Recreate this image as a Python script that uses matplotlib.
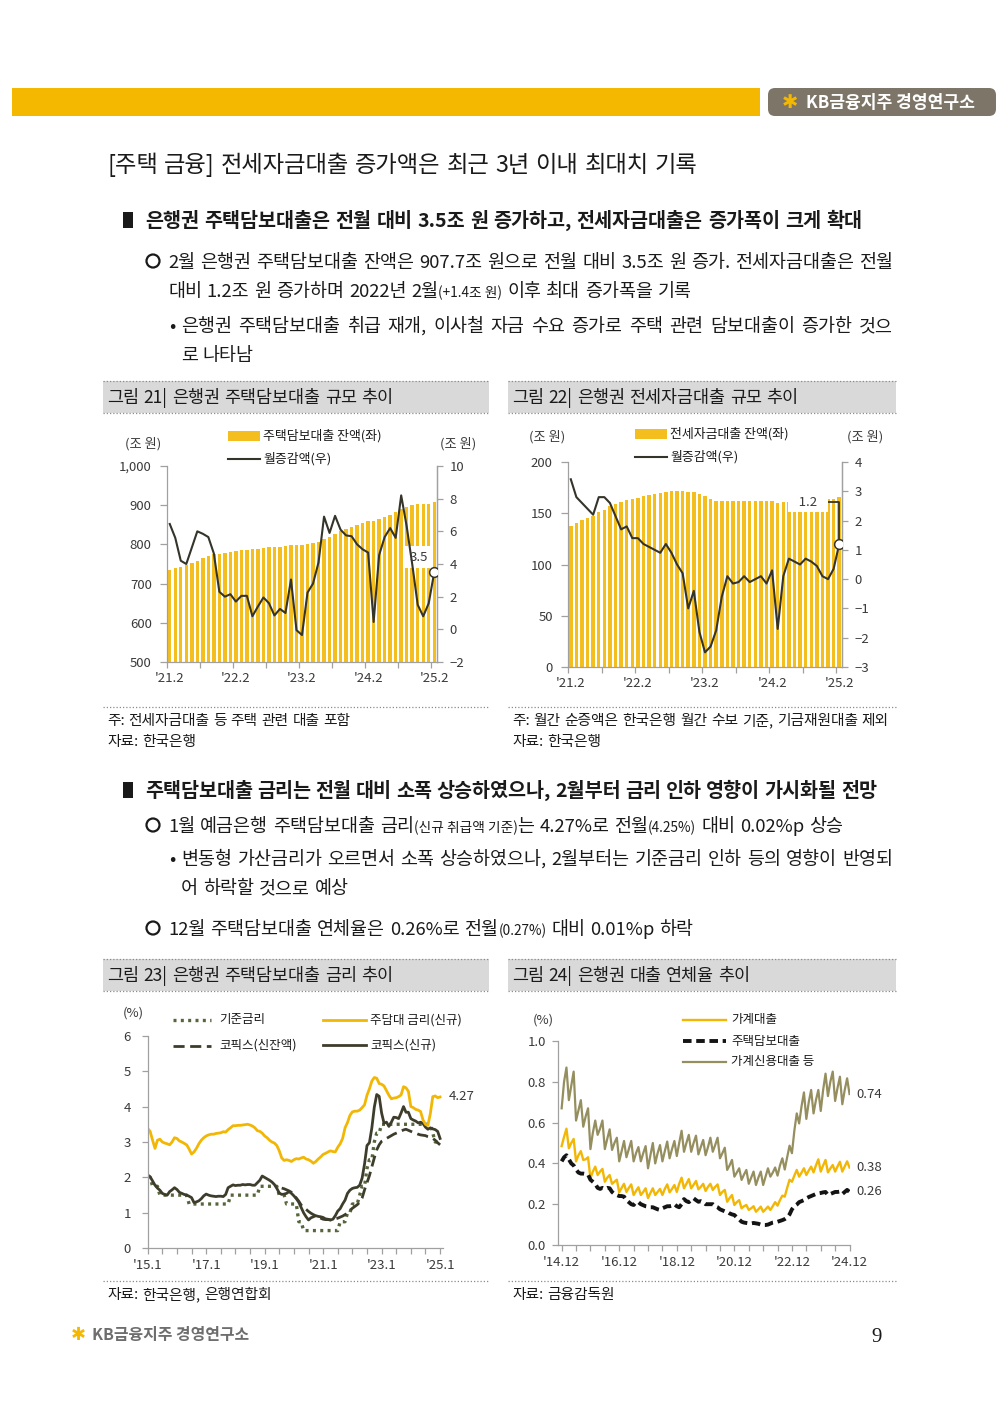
import numpy as np
import matplotlib
matplotlib.use('Agg')
import matplotlib.pyplot as plt
from matplotlib.patches import Rectangle, Circle, FancyBboxPatch

plt.rcParams['font.family'] = ['Noto Sans CJK KR', 'DejaVu Sans']

# ---------------- data ----------------
# 그림 21 : 은행권 주택담보대출 ('21.2 ~ '25.2, 월별)
mort_ticklabels = ["'21.2", "'22.2", "'23.2", "'24.2", "'25.2"]
mort_bal = [733.5, 739.1, 743.3, 747.3, 752.3, 758.3, 764.1, 769.8, 774.4, 776.7, 778.7, 780.8,
            782.5, 784.6, 786.6, 787.4, 788.8, 790.8, 792.4, 793.2, 794.5, 795.5, 798.5, 798.5,
            798.2, 800.4, 803.2, 807.3, 814.2, 820.1, 827.0, 833.1, 838.9, 844.6, 849.8, 854.7,
            859.4, 859.8, 864.4, 870.0, 876.2, 881.8, 890.0, 896.3, 900.3, 901.8, 902.6, 904.2,
            907.7]
mort_chg = [6.45, 5.6, 4.2, 4.0, 5.0, 6.0, 5.85, 5.65, 4.65, 2.3, 2.0, 2.15,
            1.7, 2.05, 2.05, 0.8, 1.4, 1.95, 1.6, 0.85, 1.25, 1.0, 3.05, -0.05,
            -0.35, 2.25, 2.8, 4.1, 6.9, 5.9, 6.95, 6.1, 5.75, 5.7, 5.2, 4.9,
            4.7, 0.45, 4.55, 5.65, 6.2, 5.6, 8.2, 6.3, 4.0, 1.5, 0.8, 1.6,
            3.5]

# 그림 22 : 은행권 전세자금대출
jeonse_bal = [137.9, 140.5, 143.1, 145.4, 147.6, 150.9, 153.5, 156.7, 159.3, 161.0, 162.6, 163.9,
              164.9, 166.5, 167.5, 168.8, 169.8, 170.7, 171.4, 172.0, 172.0, 171.0, 170.4, 168.8,
              166.5, 163.9, 162.3, 162.3, 162.0, 161.9, 162.0, 161.9, 161.8, 161.9, 161.9, 162.0,
              161.8, 160.3, 160.5, 161.1, 161.7, 162.2, 162.9, 163.5, 163.9, 164.0, 164.0, 164.3,
              165.5]
jeonse_chg = [3.41, 2.8, 2.6, 2.4, 2.2, 2.8, 2.8, 2.6, 2.15, 1.7, 1.8, 1.4,
              1.4, 1.2, 1.1, 1.0, 0.9, 1.2, 0.9, 0.5, 0.2, -1.0, -0.4, -1.8,
              -2.5, -2.3, -1.75, -0.6, 0.1, -0.15, -0.1, 0.1, -0.1, 0.0, 0.1, -0.15,
              0.3, -1.7, 0.1, 0.7, 0.6, 0.5, 0.7, 0.6, 0.45, 0.1, 0.0, 0.35,
              1.2]

# 그림 23 : 금리 ('15.1 ~ '25.1, 월별)
rate_ticklabels = ["'15.1", "'17.1", "'19.1", "'21.1", "'23.1", "'25.1"]
base_rate = [2.00, 2.00, 1.75, 1.75, 1.75, 1.50, 1.50, 1.50, 1.50, 1.50, 1.50, 1.50,
             1.50, 1.50, 1.50, 1.50, 1.50, 1.25, 1.25, 1.25, 1.25, 1.25, 1.25, 1.25,
             1.25, 1.25, 1.25, 1.25, 1.25, 1.25, 1.25, 1.25, 1.25, 1.25, 1.50, 1.50,
             1.50, 1.50, 1.50, 1.50, 1.50, 1.50, 1.50, 1.50, 1.50, 1.50, 1.75, 1.75,
             1.75, 1.75, 1.75, 1.75, 1.75, 1.75, 1.50, 1.50, 1.50, 1.25, 1.25, 1.25,
             1.25, 1.25, 0.75, 0.75, 0.50, 0.50, 0.50, 0.50, 0.50, 0.50, 0.50, 0.50,
             0.50, 0.50, 0.50, 0.50, 0.50, 0.50, 0.50, 0.75, 0.75, 0.75, 1.00, 1.00,
             1.25, 1.25, 1.25, 1.50, 1.75, 1.75, 2.25, 2.50, 2.50, 3.00, 3.25, 3.25,
             3.50, 3.50, 3.50, 3.50, 3.50, 3.50, 3.50, 3.50, 3.50, 3.50, 3.50, 3.50,
             3.50, 3.50, 3.50, 3.50, 3.50, 3.50, 3.50, 3.50, 3.50, 3.25, 3.00, 3.00,
             3.00]
mort_rate = [3.38, 3.30, 3.05, 2.82, 3.05, 3.08, 3.00, 2.97, 2.95, 2.92, 3.00, 3.12,
             3.10, 3.03, 3.00, 2.96, 2.92, 2.80, 2.66, 2.72, 2.82, 2.95, 3.05, 3.12,
             3.17, 3.20, 3.22, 3.22, 3.24, 3.25, 3.26, 3.29, 3.28, 3.35, 3.40, 3.46,
             3.46, 3.47, 3.47, 3.48, 3.49, 3.50, 3.48, 3.45, 3.40, 3.32, 3.30, 3.25,
             3.17, 3.12, 3.05, 3.00, 2.97, 2.90, 2.75, 2.55, 2.48, 2.50, 2.48, 2.45,
             2.50, 2.53, 2.52, 2.55, 2.57, 2.52, 2.50, 2.46, 2.40, 2.45, 2.52, 2.58,
             2.65, 2.68, 2.72, 2.75, 2.73, 2.72, 2.85, 2.95, 3.10, 3.40, 3.55, 3.75,
             3.85, 3.87, 3.87, 3.90, 3.97, 4.05, 4.32, 4.50, 4.72, 4.82, 4.80, 4.65,
             4.63, 4.58, 4.45, 4.32, 4.22, 4.24, 4.25, 4.28, 4.33, 4.56, 4.53, 4.43,
             4.00, 3.97, 3.92, 3.90, 3.86, 3.62, 3.50, 3.47, 3.80, 4.28, 4.30, 4.25,
             4.27]
cofix_new = [2.07, 2.02, 1.90, 1.78, 1.70, 1.64, 1.55, 1.52, 1.50, 1.60, 1.65, 1.71,
             1.66, 1.58, 1.55, 1.52, 1.50, 1.47, 1.43, 1.29, 1.31, 1.34, 1.40, 1.48,
             1.53, 1.50, 1.48, 1.47, 1.46, 1.47, 1.47, 1.46, 1.52, 1.71, 1.75, 1.79,
             1.77, 1.78, 1.78, 1.80, 1.79, 1.80, 1.80, 1.78, 1.78, 1.85, 1.92, 2.04,
             2.00, 1.96, 1.92, 1.87, 1.80, 1.69, 1.56, 1.52, 1.53, 1.55, 1.60, 1.55,
             1.48, 1.40, 1.30, 1.15, 1.00, 0.89, 0.80, 0.86, 0.89, 0.92, 0.90, 0.89,
             0.87, 0.83, 0.82, 0.80, 0.82, 0.92, 1.05, 1.12, 1.25, 1.36, 1.55, 1.64,
             1.69, 1.71, 1.72, 1.78, 1.98, 2.38, 2.90, 2.98, 3.40, 3.98, 4.34, 4.29,
             3.82, 3.53, 3.56, 3.44, 3.56, 3.70, 3.69, 3.66, 3.82, 4.00, 3.84, 3.84,
             3.66, 3.62, 3.59, 3.54, 3.56, 3.52, 3.42, 3.36, 3.40, 3.37, 3.35, 3.30,
             3.10]
# 신잔액 코픽스: '19.8부터
cofix_bal_start = 55
cofix_bal = [1.70, 1.68, 1.65, 1.62, 1.58,
             1.50, 1.42, 1.33, 1.22, 1.15, 1.10, 1.04, 0.99, 0.95, 0.92, 0.88, 0.85,
             0.82, 0.81, 0.81, 0.80, 0.81, 0.83, 0.85, 0.88, 0.91, 0.95, 1.00, 1.07,
             1.13, 1.18, 1.23, 1.30, 1.42, 1.65, 1.85, 2.05, 2.30, 2.55, 2.78, 2.92,
             3.02, 3.06, 3.10, 3.14, 3.18, 3.22, 3.25, 3.28, 3.31, 3.34, 3.36, 3.33,
             3.30, 3.27, 3.25, 3.22, 3.20, 3.19, 3.18, 3.15, 3.13, 3.10, 3.05, 2.98,
             2.92]

# 그림 24 : 연체율 ('14.12 ~ '24.12, 월별)
delinq_ticklabels = ["'14.12", "'16.12", "'18.12", "'20.12", "'22.12", "'24.12"]
hh_loan = [0.485,
           0.53, 0.57, 0.474, 0.50, 0.52, 0.41, 0.44, 0.46, 0.417, 0.42, 0.43, 0.327,
           0.36, 0.384, 0.343, 0.36, 0.373, 0.31, 0.33, 0.343, 0.30, 0.31, 0.32, 0.258,
           0.28, 0.30, 0.26, 0.28, 0.297, 0.245, 0.265, 0.283, 0.245, 0.26, 0.278, 0.23,
           0.255, 0.278, 0.245, 0.26, 0.275, 0.245, 0.275, 0.297, 0.258, 0.275, 0.294, 0.26,
           0.30, 0.33, 0.278, 0.30, 0.323, 0.278, 0.295, 0.314, 0.273, 0.285, 0.30, 0.265,
           0.285, 0.30, 0.27, 0.285, 0.297, 0.245, 0.26, 0.27, 0.212, 0.23, 0.245, 0.196,
           0.21, 0.22, 0.18, 0.19, 0.196, 0.172, 0.18, 0.19, 0.163, 0.175, 0.188, 0.163,
           0.175, 0.188, 0.172, 0.19, 0.21, 0.193, 0.22, 0.242, 0.237, 0.28, 0.32, 0.31,
           0.34, 0.368, 0.335, 0.355, 0.376, 0.343, 0.365, 0.384, 0.356, 0.39, 0.42, 0.36,
           0.39, 0.417, 0.356, 0.375, 0.392, 0.36, 0.385, 0.408, 0.36, 0.385, 0.41, 0.38]
mort_loan = [0.41,
             0.43, 0.44, 0.42, 0.40, 0.39, 0.37, 0.355, 0.35, 0.35, 0.348, 0.345, 0.32,
             0.31, 0.30, 0.28, 0.275, 0.28, 0.275, 0.28, 0.278, 0.26, 0.25, 0.245, 0.24,
             0.24, 0.237, 0.22, 0.21, 0.20, 0.196, 0.21, 0.21, 0.20, 0.195, 0.19, 0.188,
             0.185, 0.185, 0.18, 0.175, 0.172, 0.18, 0.185, 0.19, 0.19, 0.193, 0.20, 0.19,
             0.185, 0.20, 0.225, 0.215, 0.21, 0.22, 0.229, 0.22, 0.212, 0.215, 0.21, 0.20,
             0.20, 0.20, 0.20, 0.19, 0.185, 0.175, 0.17, 0.165, 0.163, 0.155, 0.15, 0.147,
             0.135, 0.125, 0.114, 0.11, 0.108, 0.106, 0.106, 0.108, 0.106, 0.104, 0.10, 0.098,
             0.098, 0.10, 0.105, 0.11, 0.112, 0.114, 0.118, 0.122, 0.127, 0.135, 0.15, 0.175,
             0.19, 0.198, 0.21, 0.215, 0.22, 0.229, 0.235, 0.24, 0.245, 0.25, 0.253, 0.255,
             0.258, 0.26, 0.245, 0.25, 0.255, 0.26, 0.26, 0.262, 0.25, 0.26, 0.27, 0.26]
credit_loan = [0.67,
               0.80, 0.87, 0.71, 0.78, 0.85, 0.61, 0.66, 0.71, 0.58, 0.63, 0.67, 0.47,
               0.55, 0.61, 0.54, 0.57, 0.61, 0.47, 0.52, 0.567, 0.466, 0.50, 0.526, 0.41,
               0.46, 0.51, 0.43, 0.47, 0.51, 0.41, 0.45, 0.48, 0.41, 0.45, 0.485, 0.376,
               0.44, 0.50, 0.40, 0.45, 0.49, 0.41, 0.46, 0.507, 0.425, 0.47, 0.51, 0.436,
               0.50, 0.56, 0.457, 0.50, 0.54, 0.457, 0.50, 0.536, 0.444, 0.48, 0.515, 0.44,
               0.48, 0.526, 0.457, 0.49, 0.526, 0.425, 0.45, 0.477, 0.368, 0.39, 0.417, 0.335,
               0.355, 0.376, 0.319, 0.345, 0.368, 0.30, 0.33, 0.36, 0.294, 0.33, 0.36, 0.294,
               0.335, 0.376, 0.335, 0.355, 0.38, 0.34, 0.39, 0.425, 0.37, 0.43, 0.487, 0.45,
               0.56, 0.645, 0.596, 0.68, 0.748, 0.618, 0.70, 0.76, 0.645, 0.71, 0.76, 0.657,
               0.76, 0.84, 0.73, 0.80, 0.85, 0.706, 0.77, 0.825, 0.69, 0.76, 0.817, 0.74]

# ---------------- style ----------------
YEL = '#F5B800'
BAR = '#F4BE1E'
LINE = '#35342A'
AXC = '#A0A0A0'
TXT = '#1A1A1A'
TICK = '#3A3A3A'
GRAYBOX = '#D9D9D9'

W, H = 1000, 1414
fig = plt.figure(figsize=(10, 14.14), dpi=100)
bg = fig.add_axes([0, 0, 1, 1])
bg.set_xlim(0, W)
bg.set_ylim(H, 0)
bg.axis('off')
R = fig.canvas.get_renderer()
PX2PT = 0.72


def add_ax(l, t, r, b):
    ax = fig.add_axes([l / W, 1 - b / H, (r - l) / W, (b - t) / H])
    ax.patch.set_visible(False)
    return ax


def parse(line):
    # {..} marks smaller inline text
    words, cur, part, small = [], [], '', False
    for ch in line:
        if ch in '{}':
            if part:
                cur.append((part, small))
                part = ''
            small = ch == '{'
        elif ch == ' ' and not small:
            if part:
                cur.append((part, small))
                part = ''
            if cur:
                words.append(cur)
                cur = []
        else:
            part += ch
    if part:
        cur.append((part, small))
    if cur:
        words.append(cur)
    return words


def draw_line(x0, y, line, size, x1=None, weight='normal', color=TXT, small_ratio=0.74, family=None):
    words = parse(line)
    items, widths = [], []
    for w in words:
        parts, tot = [], 0
        for txt, sm in w:
            kw = dict(fontsize=size * small_ratio if sm else size, fontweight=weight,
                      va='baseline', ha='left', color=color)
            if family:
                kw['family'] = family
            t = bg.text(0, y, txt, **kw)
            wd = t.get_window_extent(renderer=R).width
            parts.append((t, wd))
            tot += wd
        items.append(parts)
        widths.append(tot)
    gap = size / PX2PT * 0.26
    if x1 is not None and len(words) > 1:
        gap = (x1 - x0 - sum(widths)) / (len(words) - 1)
    x = x0
    for parts in items:
        for t, wd in parts:
            t.set_x(x)
            x += wd
        x += gap
    return x - gap


def fit_size(line, width, weight='normal', base=12):
    words = parse(line)
    tot = 0
    for w in words:
        for txt, sm in w:
            t = bg.text(0, 0, txt, fontsize=base * (0.74 if sm else 1), fontweight=weight)
            tot += t.get_window_extent(renderer=R).width
            t.remove()
    tot += (len(words) - 1) * base / PX2PT * 0.26
    return base * width / tot


def dotted(x0, x1, y):
    bg.plot([x0, x1], [y, y], color='#8C8C8C', lw=0.9, ls=(0, (1, 1.6)))


# ---------------- page header ----------------
bg.add_patch(Rectangle((12, 88), 748, 28, color=YEL, lw=0))
bg.add_patch(FancyBboxPatch((768, 88), 228, 28, boxstyle='round,pad=0,rounding_size=7',
                            fc='#7D7568', ec='none'))
bg.text(790, 103, '✱', color=YEL, fontsize=14, family='DejaVu Sans', ha='center', va='center',
        fontweight='bold')
s_hdr = fit_size('KB금융지주 경영연구소', 170, 'bold')
bg.text(806, 103, 'KB금융지주 경영연구소', color='white', fontsize=s_hdr, fontweight='bold',
        va='center', ha='left')

title = '[주택 금융] 전세자금대출 증가액은 최근 3년 이내 최대치 기록'
draw_line(107, 172, title, fit_size(title, 593))

# ---------------- section 1 text ----------------
h1 = '은행권 주택담보대출은 전월 대비 3.5조 원 증가하고, 전세자금대출은 증가폭이 크게 확대'
hsize = fit_size(h1, 720, 'bold')
bg.add_patch(Rectangle((123, 212), 10, 16, color=TXT, lw=0))
draw_line(145, 227, h1, hsize, weight='bold')

b1 = '2월 은행권 주택담보대출 잔액은 907.7조 원으로 전월 대비 3.5조 원 증가. 전세자금대출은 전월'
bsize = fit_size(b1, 725)
bg.add_patch(Circle((153, 261), 6.5, fill=False, ec=TXT, lw=1.6))
draw_line(168, 268, b1, bsize, x1=893)
draw_line(168, 297, '대비 1.2조 원 증가하며 2022년 2월{(+1.4조 원)} 이후 최대 증가폭을 기록', bsize)
bg.text(172, 332, '•', fontsize=bsize, color=TXT, ha='center', va='baseline')
draw_line(181, 332, '은행권 주택담보대출 취급 재개, 이사철 자금 수요 증가로 주택 관련 담보대출이 증가한 것으',
          bsize, x1=893)
draw_line(181, 361, '로 나타남', bsize)

# figure title boxes
ftitles = ['그림 21| 은행권 주택담보대출 규모 추이', '그림 22| 은행권 전세자금대출 규모 추이',
           '그림 23| 은행권 주택담보대출 금리 추이', '그림 24| 은행권 대출 연체율 추이']
fsize = fit_size(ftitles[0], 288)
for (x0, x1, y0), s in zip([(103, 489, 381), (508, 896, 381), (103, 489, 959), (508, 896, 959)], ftitles):
    bg.add_patch(Rectangle((x0, y0), x1 - x0, 32, fc=GRAYBOX, ec='none'))
    dotted(x0, x1, y0)
    dotted(x0, x1, y0 + 32)
    draw_line(x0 + 4, y0 + 22, s, fsize)

# notes
nsize = fit_size('주: 월간 순증액은 한국은행 월간 수보 기준, 기금재원대출 제외', 379)
dotted(103, 489, 707)
dotted(508, 896, 707)
draw_line(107, 725, '주: 전세자금대출 등 주택 관련 대출 포함', nsize)
draw_line(107, 746, '자료: 한국은행', nsize)
draw_line(512, 725, '주: 월간 순증액은 한국은행 월간 수보 기준, 기금재원대출 제외', nsize)
draw_line(512, 746, '자료: 한국은행', nsize)

# ---------------- section 2 text ----------------
h2 = '주택담보대출 금리는 전월 대비 소폭 상승하였으나, 2월부터 금리 인하 영향이 가시화될 전망'
bg.add_patch(Rectangle((123, 782), 10, 16, color=TXT, lw=0))
draw_line(145, 797, h2, hsize, x1=877, weight='bold')
bg.add_patch(Circle((153, 825), 6.5, fill=False, ec=TXT, lw=1.6))
draw_line(168, 832, '1월 예금은행 주택담보대출 금리{(신규 취급액 기준)}는 4.27%로 전월{(4.25%)} 대비 0.02%p 상승', bsize)
bg.text(172, 865, '•', fontsize=bsize, color=TXT, ha='center', va='baseline')
draw_line(181, 865, '변동형 가산금리가 오르면서 소폭 상승하였으나, 2월부터는 기준금리 인하 등의 영향이 반영되',
          bsize, x1=893)
draw_line(181, 894, '어 하락할 것으로 예상', bsize)
bg.add_patch(Circle((153, 928), 6.5, fill=False, ec=TXT, lw=1.6))
draw_line(168, 935, '12월 주택담보대출 연체율은 0.26%로 전월{(0.27%)} 대비 0.01%p 하락', bsize)

dotted(103, 489, 1281)
dotted(508, 896, 1281)
draw_line(107, 1299, '자료: 한국은행, 은행연합회', nsize)
draw_line(512, 1299, '자료: 금융감독원', nsize)

# footer
bg.text(78, 1335, '✱', color=YEL, fontsize=13, family='DejaVu Sans', ha='center', va='center',
        fontweight='bold')
s_ft = fit_size('KB금융지주 경영연구소', 158, 'bold')
bg.text(92, 1335, 'KB금융지주 경영연구소', color='#6E6E6E', fontsize=s_ft, fontweight='bold',
        va='center', ha='left')
bg.text(877, 1337, '9', fontsize=15, family='Liberation Serif', color=TXT, ha='center', va='center')

FS = 9.5


def base_style(ax):
    ax.spines['top'].set_visible(False)
    for s in ['left', 'right', 'bottom']:
        ax.spines[s].set_color(AXC)
        ax.spines[s].set_linewidth(0.9)
    ax.tick_params(which='both', color=AXC, labelcolor=TICK, labelsize=FS, direction='out', width=0.9)


def legend_text(x, y, s, size=9.3):
    bg.text(x, y, s, fontsize=size, color=TXT, va='center', ha='left')


# ---------------- chart 1 ----------------
ax1 = add_ax(167, 466, 437, 662)
x1 = np.arange(len(mort_bal))
ax1.bar(x1, mort_bal, width=0.62, color=BAR, lw=0)
ax1.set_xlim(-0.5, len(mort_bal) - 0.5)
ax1.set_ylim(500, 1000)
ax1.set_yticks(np.arange(500, 1001, 100))
ax1.set_yticklabels([f'{v:,}' for v in range(500, 1001, 100)])
ax1.set_xticks(np.arange(0, len(mort_bal), 12))
ax1.set_xticklabels(mort_ticklabels)
ax1.set_xticks(np.arange(-0.5, len(mort_bal), 6), minor=True)
base_style(ax1)
ax1.tick_params(axis='x', which='major', length=0, pad=7)
ax1.tick_params(axis='x', which='minor', length=4)
ax1.tick_params(axis='y', length=5, pad=6)
ax1r = ax1.twinx()
ax1r.plot(x1, mort_chg, color=LINE, lw=1.5, zorder=3)
ax1r.plot(x1[-1], mort_chg[-1], 'o', ms=7, mfc='white', mec=LINE, mew=1.1, zorder=4)
ax1r.set_ylim(-2, 10)
ax1r.set_yticks(np.arange(-2, 11, 2))
base_style(ax1r)
ax1r.spines['left'].set_visible(False)
ax1r.spines['bottom'].set_visible(False)
ax1r.tick_params(axis='y', length=4, pad=5)
ax1r.annotate(f'{mort_chg[-1]:.1f}', xy=(x1[-1], mort_chg[-1]), xytext=(-15, 15),
              textcoords='offset pixels', ha='center', va='center', fontsize=FS, color=TICK,
              zorder=1, bbox=dict(boxstyle='square,pad=0.35', fc='white', ec='none'))
bg.add_patch(Rectangle((228, 431), 32, 10, color=BAR, lw=0))
legend_text(263, 436, '주택담보대출 잔액(좌)')
bg.plot([228, 260], [459, 459], color=LINE, lw=1.5)
legend_text(263, 459, '월증감액(우)')
bg.text(143, 444, '(조 원)', fontsize=FS, color=TICK, ha='center', va='center')
bg.text(458, 444, '(조 원)', fontsize=FS, color=TICK, ha='center', va='center')

# ---------------- chart 2 ----------------
ax2 = add_ax(568, 462, 842, 667)
x2 = np.arange(len(jeonse_bal))
ax2.bar(x2, jeonse_bal, width=0.62, color=BAR, lw=0)
ax2.set_xlim(-0.5, len(jeonse_bal) - 0.5)
ax2.set_ylim(0, 200)
ax2.set_yticks(np.arange(0, 201, 50))
ax2.set_xticks(np.arange(0, len(jeonse_bal), 12))
ax2.set_xticklabels(mort_ticklabels)
ax2.set_xticks(np.arange(-0.5, len(jeonse_bal), 6), minor=True)
base_style(ax2)
ax2.tick_params(axis='x', which='major', length=0, pad=7)
ax2.tick_params(axis='x', which='minor', length=4)
ax2.tick_params(axis='y', length=5, pad=6)
ax2r = ax2.twinx()
ax2r.plot(x2, jeonse_chg, color=LINE, lw=1.5, zorder=3)
ax2r.plot(x2[-1], jeonse_chg[-1], 'o', ms=7, mfc='white', mec=LINE, mew=1.1, zorder=5)
ax2r.set_ylim(-3, 4)
ax2r.set_yticks(np.arange(-3, 5, 1))
base_style(ax2r)
ax2r.spines['left'].set_visible(False)
ax2r.spines['bottom'].set_visible(False)
ax2r.tick_params(axis='y', length=4, pad=5)
ax2r.annotate('\u2002' + f'{jeonse_chg[-1]:.1f}' + '\u2002', xy=(x2[-1], jeonse_chg[-1]), xytext=(-31, 42),
              textcoords='offset pixels', ha='center', va='center', fontsize=FS, color=TICK,
              zorder=2, bbox=dict(boxstyle='square,pad=0.3', fc='white', ec='none'),
              arrowprops=dict(arrowstyle='-', color=LINE, lw=1.3, shrinkA=0, shrinkB=0,
                              connectionstyle='angle,angleA=0,angleB=90,rad=0'))
bg.add_patch(Rectangle((635, 429), 32, 10, color=BAR, lw=0))
legend_text(670, 434, '전세자금대출 잔액(좌)')
bg.plot([635, 667], [457, 457], color=LINE, lw=1.5)
legend_text(670, 457, '월증감액(우)')
bg.text(547, 437, '(조 원)', fontsize=FS, color=TICK, ha='center', va='center')
bg.text(865, 437, '(조 원)', fontsize=FS, color=TICK, ha='center', va='center')

# ---------------- chart 3 ----------------
ax3 = add_ax(147.7, 1035.7, 443, 1248.3)
x3 = np.arange(len(base_rate))
xb = np.arange(cofix_bal_start, cofix_bal_start + len(cofix_bal))
ax3.plot(x3, base_rate, color='#56663A', lw=2.4, ls=(0, (0.9, 1.3)), solid_capstyle='butt')
ax3.plot(xb, cofix_bal, color='#3E3D2C', lw=2.0, ls=(0, (4, 2)))
ax3.plot(x3, cofix_new, color='#3E3D2C', lw=2.0)
ax3.plot(x3, mort_rate, color='#F2B705', lw=2.0)
ax3.set_xlim(0, 121.2)
ax3.set_ylim(0, 6)
ax3.set_yticks(np.arange(0, 7, 1))
ax3.set_xticks(np.arange(0, len(base_rate), 24))
ax3.set_xticklabels(rate_ticklabels)
ax3.set_xticks(np.arange(0, len(base_rate), 6), minor=True)
base_style(ax3)
ax3.spines['right'].set_visible(False)
ax3.tick_params(axis='x', which='both', length=4, pad=4)
ax3.tick_params(axis='y', length=4, pad=8)
ax3.annotate(f'{mort_rate[-1]:.2f}', xy=(x3[-1], mort_rate[-1]), xytext=(9, 0),
             textcoords='offset pixels', ha='left', va='center', fontsize=FS, color=TICK)
bg.plot([173, 211], [1020, 1020], color='#56663A', lw=2.4, ls=(0, (0.9, 1.3)))
legend_text(219, 1020, '기준금리', 9)
bg.plot([323, 366], [1020, 1020], color='#F2B705', lw=2.0)
legend_text(370, 1020, '주담대 금리(신규)', 9)
bg.plot([173, 211], [1046, 1046], color='#3E3D2C', lw=2.0, ls=(0, (4, 2)))
legend_text(219, 1045, '코픽스(신잔액)', 9)
bg.plot([323, 366], [1045, 1045], color='#3E3D2C', lw=2.0)
legend_text(370, 1045, '코픽스(신규)', 9)
bg.text(133, 1013, '(%)', fontsize=FS, color=TICK, ha='center', va='center')

# ---------------- chart 4 ----------------
ax4 = add_ax(558.3, 1041, 850, 1245)
x4 = np.arange(len(hh_loan))
ax4.plot(x4, credit_loan, color='#958E5F', lw=1.6)
ax4.plot(x4, hh_loan, color='#F2B705', lw=1.7)
ax4.plot(x4, mort_loan, color='#141414', lw=2.8, ls=(0, (2.2, 1.2)))
ax4.set_xlim(-1.4, 120.2)
ax4.set_ylim(0, 1.0)
ax4.set_yticks(np.arange(0, 1.01, 0.2))
ax4.set_yticklabels([f'{v:.1f}' for v in np.arange(0, 1.01, 0.2)])
ax4.set_xticks(np.arange(0, len(hh_loan), 24))
ax4.set_xticklabels(delinq_ticklabels)
ax4.set_xticks(np.arange(0, len(hh_loan), 6), minor=True)
base_style(ax4)
ax4.spines['right'].set_visible(False)
ax4.tick_params(axis='x', which='both', length=4, pad=4)
ax4.tick_params(axis='y', length=4, pad=5)
for ser in (credit_loan, hh_loan, mort_loan):
    ax4.annotate(f'{ser[-1]:.2f}', xy=(x4[-1], ser[-1]), xytext=(7, 0),
                 textcoords='offset pixels', ha='left', va='center', fontsize=FS, color=TICK)
bg.plot([683, 726], [1020, 1020], color='#F2B705', lw=1.7)
legend_text(731, 1020, '가계대출', 9)
bg.plot([683, 726], [1041, 1041], color='#141414', lw=2.8, ls=(0, (2.2, 1.2)))
legend_text(731, 1041, '주택담보대출', 9)
bg.plot([683, 726], [1062, 1062], color='#958E5F', lw=1.6)
legend_text(731, 1062, '가계신용대출 등', 9)
bg.text(543, 1020, '(%)', fontsize=FS, color=TICK, ha='center', va='center')

fig.savefig('out.png', dpi=100)
